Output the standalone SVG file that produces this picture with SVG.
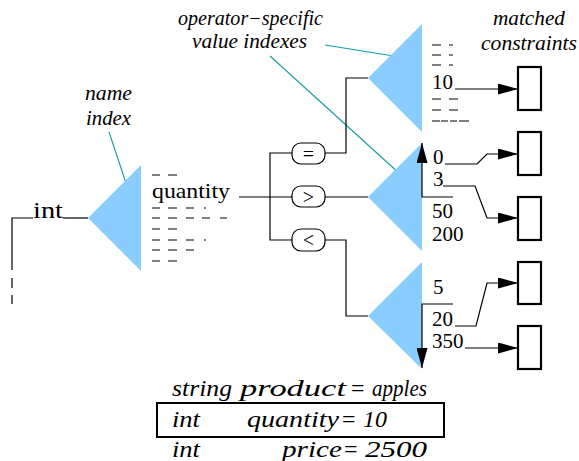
<svg xmlns="http://www.w3.org/2000/svg" width="579" height="461" viewBox="0 0 579 461" font-family="'Liberation Serif', 'DejaVu Serif', serif">
<defs>
<marker id="ah" markerUnits="userSpaceOnUse" markerWidth="20" markerHeight="11" refX="20" refY="5.5" orient="auto">
<path d="M0,0 L20,5.5 L0,11 z" fill="#000"/>
</marker>
<style>
.tri{fill:#88CDFD;stroke:none}
.ln{fill:none;stroke:#000;stroke-width:1.2}
.arr{fill:none;stroke:#000;stroke-width:1.2;marker-end:url(#ah)}
.teal{fill:none;stroke:#169c9c;stroke-width:1.1}
.box{fill:#fff;stroke:#000;stroke-width:2.2}
.cap{fill:#fff;stroke:#000;stroke-width:1.2}
.dash{stroke:#000;stroke-width:1}
.t{font-size:21px;fill:#000}
.it{font-style:italic;font-size:20px;fill:#000}
.tb{font-style:italic;font-size:24px;fill:#000}
.eq{font-size:24px;fill:#000}
.sym{font-size:20px;fill:#000;text-anchor:middle}
</style>
</defs>
<rect width="579" height="461" fill="#fff"/>

<g id="labels">
<text class="it" x="178" y="25" textLength="145" lengthAdjust="spacingAndGlyphs">operator−specific</text>
<text class="it" x="192" y="48" textLength="115" lengthAdjust="spacingAndGlyphs">value indexes</text>
<text class="it" x="493" y="25" textLength="72" lengthAdjust="spacingAndGlyphs">matched</text>
<text class="it" x="481" y="50" textLength="96" lengthAdjust="spacingAndGlyphs">constraints</text>
<text class="it" x="85" y="100" textLength="47" lengthAdjust="spacingAndGlyphs">name</text>
<text class="it" x="86" y="125" textLength="45" lengthAdjust="spacingAndGlyphs">index</text>
</g>

<g id="connectors">
<line class="teal" x1="325" y1="45" x2="400" y2="57"/>
<line class="teal" x1="270" y1="56" x2="400" y2="174"/>
<line class="teal" x1="109" y1="132" x2="130" y2="195"/>
<path class="ln" d="M12,270 V218 H33"/>
<path class="ln" d="M12,278 V288 M12,295 V304"/>
<line class="ln" x1="63" y1="218" x2="88" y2="218"/>
<line class="ln" x1="239" y1="197" x2="292" y2="197"/>
<path class="ln" d="M292,153 H270 V240 H292"/>
<path class="ln" d="M325,153 H346 V78 H368"/>
<line class="ln" x1="325" y1="197" x2="368" y2="197"/>
<path class="ln" d="M325,240 H346 V316 H368"/>
<path class="arr" d="M455,89 H518"/>
<path class="arr" d="M445,164 H477 L487,154 H518"/>
<path class="arr" d="M443,186 H475 L487,218 H518"/>
<path class="arr" d="M455,326 H476 L487,283 H518"/>
<path class="arr" d="M465,348 H518"/>
</g>

<g id="name-index">
<path class="tri" d="M88,218 L141,165 L141,271 z"/>
<text class="t" x="33" y="218" style="font-size:23px" textLength="30" lengthAdjust="spacingAndGlyphs">int</text>
<text class="t" x="152" y="198" textLength="78" lengthAdjust="spacingAndGlyphs">quantity</text>
<path class="dash" d="M152,175 H160 M168,175 H177
M152,208 H160 M168,208 H177 M186,208 H194 M204,208 H206
M152,218 H160 M168,218 H177 M186,218 H194 M202,218 H210 M220,218 H227
M152,229 H160 M168,229 H177
M152,240 H160 M168,240 H177 M186,240 H194 M204,240 H206
M152,250 H160 M168,250 H177 M186,250 H194
M152,261 H160 M168,261 H177"/>
</g>

<g id="op-eq">
<rect class="cap" x="292" y="143" width="33" height="21" rx="9"/>
<text class="sym" x="308.5" y="160.5">=</text>
</g>
<g id="op-gt">
<rect class="cap" x="292" y="186" width="33" height="21" rx="9"/>
<text class="sym" x="308.5" y="203.5">&gt;</text>
</g>
<g id="op-lt">
<rect class="cap" x="292" y="229" width="33" height="22" rx="9"/>
<text class="sym" x="308.5" y="247">&lt;</text>
</g>

<g id="eq-index">
<path class="tri" d="M368,78 L422,24 L422,132 z"/>
<path class="dash" d="M432,45 H441 M449,45 H453 M432,55 H441 M449,55 H453 M432,65 H441 M449,65 H453
M432,99 H441 M449,99 H458 M432,110 H441 M449,110 H458
M432,121 H440 M441,121 H448 M450,121 H457 M459,121 H469"/>
<text class="t" x="432" y="89">10</text>
</g>

<g id="gt-index">
<path class="tri" d="M368,197 L422,143 L422,251 z"/>
<path class="arr" d="M453,197 H422 V143"/>
<text class="t" x="433" y="164">0</text>
<text class="t" x="433" y="186">3</text>
<text class="t" x="432" y="218">50</text>
<text class="t" x="432" y="241">200</text>
</g>

<g id="lt-index">
<path class="tri" d="M368,316 L422,262 L422,369 z"/>
<path class="arr" d="M453,304 H422 V368"/>
<text class="t" x="433" y="294">5</text>
<text class="t" x="432" y="326">20</text>
<text class="t" x="432" y="348">350</text>
</g>

<g id="constraints">
<rect class="box" x="518" y="67" width="23" height="43"/>
<rect class="box" x="518" y="132" width="23" height="43"/>
<rect class="box" x="518" y="197" width="23" height="43"/>
<rect class="box" x="518" y="262" width="23" height="42"/>
<rect class="box" x="518" y="326" width="23" height="43"/>
</g>

<g id="event">
<rect fill="none" stroke="#000" stroke-width="2" x="157" y="403" width="287" height="34"/>
<text class="tb" x="172" y="396" textLength="60" lengthAdjust="spacingAndGlyphs">string</text>
<text class="tb" x="240" y="396" textLength="106" lengthAdjust="spacingAndGlyphs">product</text>
<text class="tb" x="372" y="396" textLength="55" lengthAdjust="spacingAndGlyphs">apples</text>
<text class="tb" x="172" y="427" textLength="28" lengthAdjust="spacingAndGlyphs">int</text>
<text class="tb" x="247" y="427" textLength="92" lengthAdjust="spacingAndGlyphs">quantity</text>
<text class="tb" x="363" y="427" textLength="24" lengthAdjust="spacingAndGlyphs">10</text>
<text class="tb" x="172" y="457" textLength="28" lengthAdjust="spacingAndGlyphs">int</text>
<text class="tb" x="282" y="457" textLength="60" lengthAdjust="spacingAndGlyphs">price</text>
<text class="tb" x="365" y="457" textLength="62" lengthAdjust="spacingAndGlyphs">2500</text>
<text class="eq" x="351" y="396">=</text>
<text class="eq" x="342" y="427">=</text>
<text class="eq" x="344" y="457">=</text>
</g>
</svg>
